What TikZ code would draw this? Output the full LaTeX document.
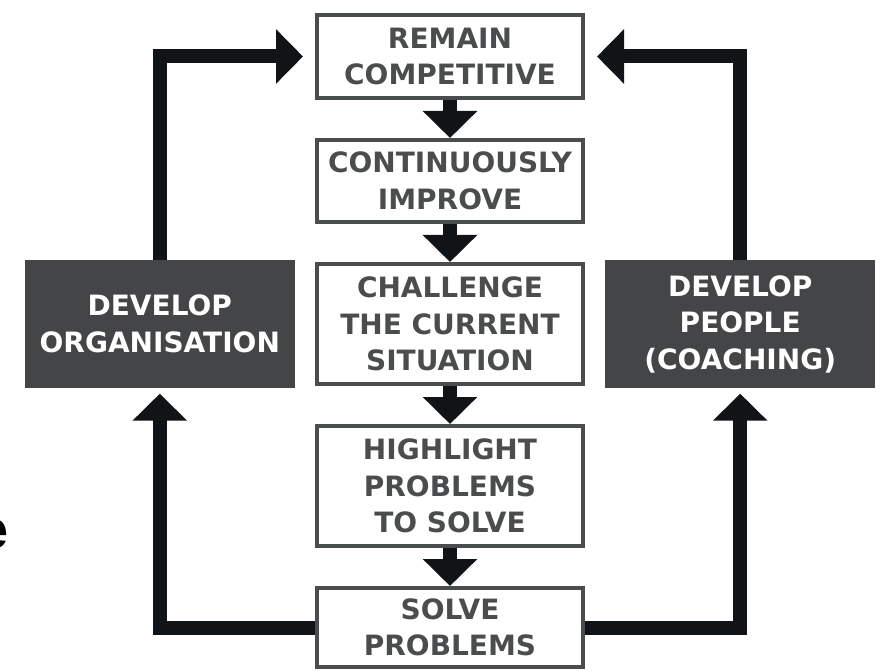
\documentclass[tikz,border=0pt]{standalone}
\usepackage{fontspec}
\setmainfont{DejaVu Sans}
\newfontfamily\arialfont{Liberation Sans}
\usetikzlibrary{arrows.meta, positioning}
\definecolor{boxgray}{RGB}{74,77,78}
\definecolor{darkfill}{RGB}{67,69,70}
\definecolor{arrowblack}{RGB}{17,20,22}
\newcommand{\boxfont}{\fontsize{28}{36.5}\selectfont\bfseries}
\tikzstyle{stage}=[draw=boxgray, line width=4pt, fill=white, text=boxgray, minimum width=266pt, align=center, font=\boxfont]
\tikzstyle{driver}=[fill=darkfill, text=white, minimum width=270pt, minimum height=127pt, align=center, font=\boxfont]
\tikzstyle{flow}=[draw=arrowblack, line width=14pt, line join=miter, -{Triangle[width=53pt, length=27pt]}]

\begin{document}
\begin{tikzpicture}[x=1pt, y=-1pt, node distance=38pt]
\useasboundingbox (0,0) rectangle (887,671);
\node[stage, minimum height=83pt] at (450,56.5) (compete) {REMAIN\\COMPETITIVE};
\node[stage, minimum height=82pt, below=of compete] (improve) {CONTINUOUSLY\\IMPROVE};
\node[stage, minimum height=120pt, below=of improve] (challenge) {CHALLENGE\\THE CURRENT\\SITUATION};
\node[stage, minimum height=120pt, below=of challenge] (highlight) {HIGHLIGHT\\PROBLEMS\\TO SOLVE};
\node[stage, minimum height=79pt, below=of highlight] (solve) {SOLVE\\PROBLEMS};
\node[driver, left=20pt of challenge] (org) {DEVELOP\\ORGANISATION};
\node[driver, right=20pt of challenge] (people) {DEVELOP\\PEOPLE\\(COACHING)};
%\node[below = .1cm of solve]{cycle};
\node[anchor=base east, inner sep=0pt, font=\arialfont\bfseries\fontsize{54}{60}\selectfont] at (9,548) (cut) {e};
\draw[flow] (compete) -- (improve);
\draw[flow] (improve) -- (challenge);
\draw[flow] (challenge) -- (highlight);
\draw[flow] (highlight) -- (solve);
\draw[flow, shorten >=6pt] (solve.west) -| (org.south);
\draw[flow, shorten >=12pt] (org.north) |- (compete.west);
\draw[flow, shorten >=6pt] (solve.east) -| (people.south);
\draw[flow, shorten >=12pt] (people.north) |- (compete.east);
\end{tikzpicture}
\end{document}
